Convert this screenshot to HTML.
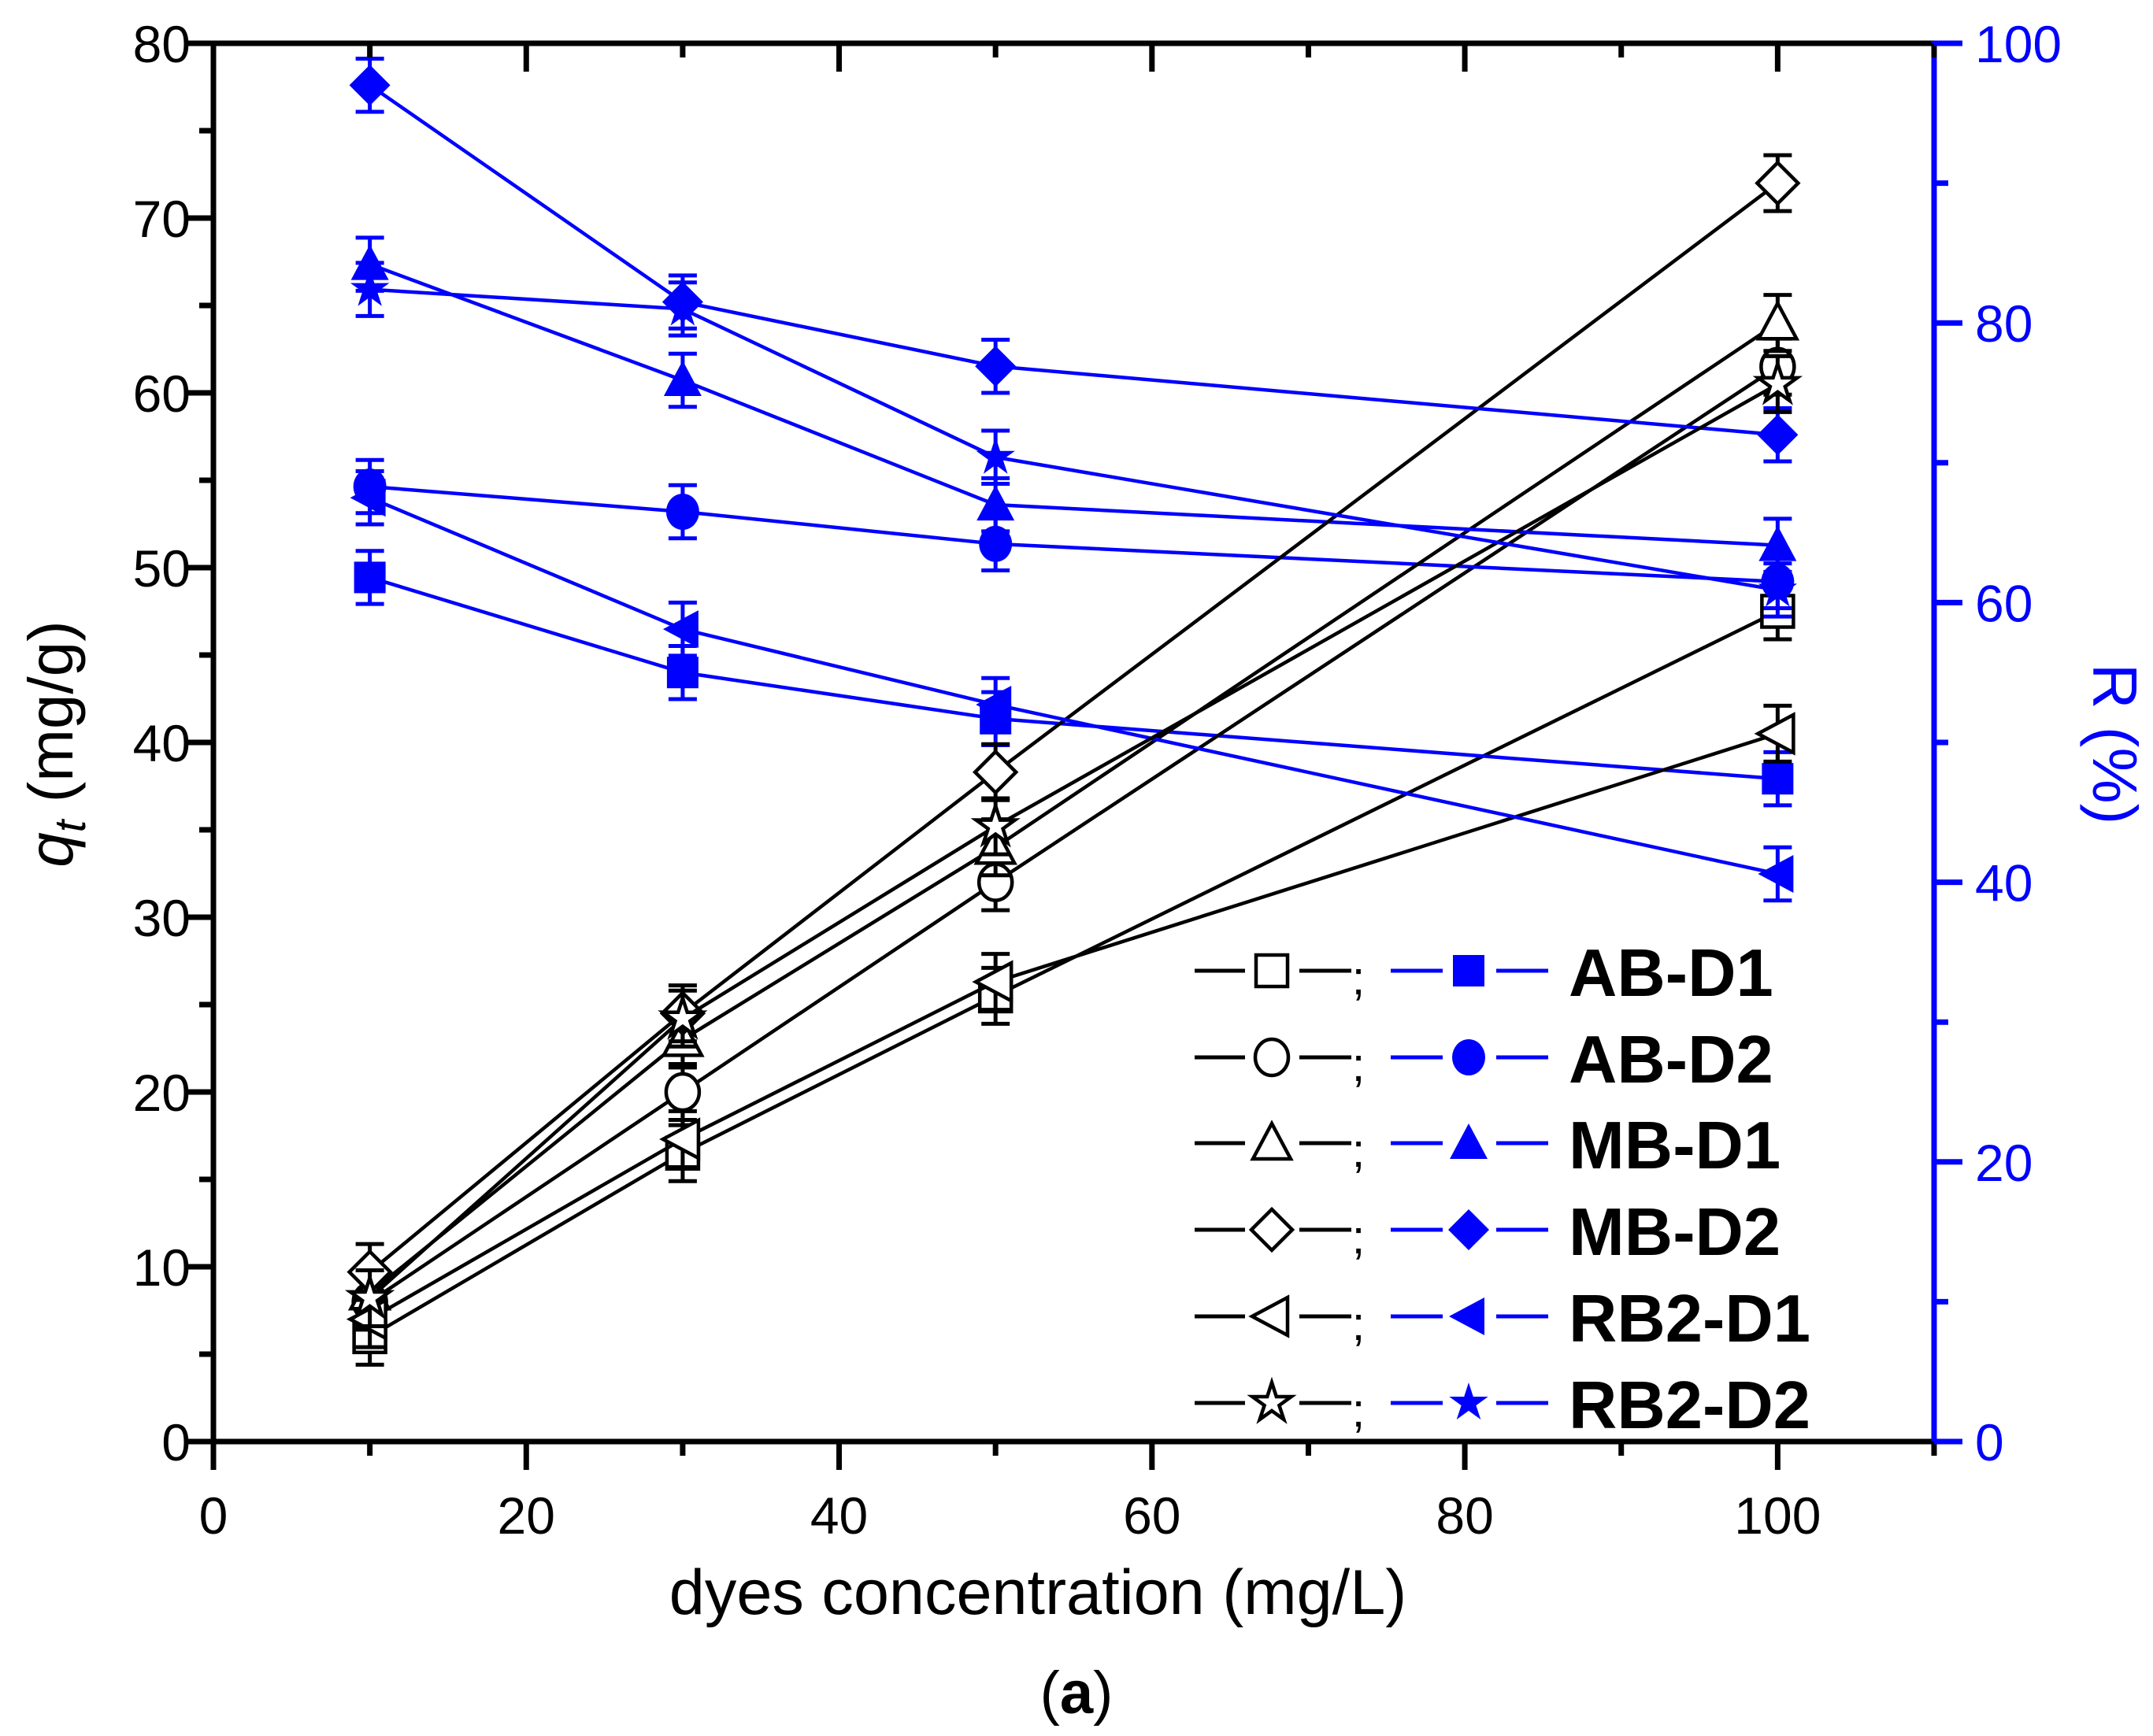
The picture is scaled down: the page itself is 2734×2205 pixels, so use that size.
<!DOCTYPE html>
<html><head><meta charset="utf-8"><style>
body{margin:0;background:#fff}
svg{display:block}
text{font-family:"Liberation Sans",sans-serif}
</style></head><body>
<svg id="chart" width="2734" height="2205" viewBox="0 0 2734 2205" xmlns="http://www.w3.org/2000/svg">
<g id="marks"></g>
<g id="axes"></g>
<g id="legend"></g>
</svg>
<script>
const xCats = [10, 30, 50, 100];
const seriesNames = ["AB-D1","AB-D2","MB-D1","MB-D2","RB2-D1","RB2-D2"];
const markerTypes = ["square","circle","triangle","diamond","ltriangle","star"];
const qAB_D1 = [6, 16.5, 25.5, 47.5];
const qAB_D2 = [8, 20, 32, 61.5];
const qMB_D1 = [8.5, 23, 34, 64];
const qMB_D2 = [9.7, 24.5, 38.3, 72];
const qRB2_D1 = [7, 17.3, 26.3, 40.5];
const qRB2_D2 = [8.2, 24.2, 35.2, 60.5];
const rAB_D1 = [61.8, 55, 51.7, 47.4];
const rAB_D2 = [68.3, 66.5, 64.2, 61.5];
const rMB_D1 = [84.2, 75.9, 67, 64.1];
const rMB_D2 = [97, 81.5, 76.9, 72];
const rRB2_D1 = [67.5, 58.1, 52.7, 40.6];
const rRB2_D2 = [82.4, 81, 70.4, 60.9];
const qErr = 1.6;
const rErr = 1.9;
const xTicks = [0,20,40,60,80,100];
const qTicks = [0,10,20,30,40,50,60,70,80];
const rTicks = [0,20,40,60,80,100];

const qSeries=[qAB_D1,qAB_D2,qMB_D1,qMB_D2,qRB2_D1,qRB2_D2];
const rSeries=[rAB_D1,rAB_D2,rMB_D1,rMB_D2,rRB2_D1,rRB2_D2];
const L=271,R=2456,T=55,B=1831;
const X=v=>L+(v/110)*(R-L);
const YQ=v=>B-(v/80)*(B-T);
const YR=v=>B-(v/100)*(B-T);
const NS="http://www.w3.org/2000/svg";
function mk(tag,attrs,parent){const e=document.createElementNS(NS,tag);for(const k in attrs)e.setAttribute(k,attrs[k]);parent.appendChild(e);return e;}
const marks=document.getElementById('marks'),axes=document.getElementById('axes'),legend=document.getElementById('legend');

function marker(type,cx,cy,color,filled,parent){
  const s=22;const fill=filled?color:'#fff';const sw=filled?0:4.5;
  let e;
  if(type==='square')e=mk('rect',{x:cx-s+2,y:cy-s+2,width:2*s-4,height:2*s-4},parent);
  else if(type==='circle')e=mk('ellipse',{cx:cx,cy:cy,rx:s-1,ry:s+1},parent);
  else if(type==='triangle')e=mk('polygon',{points:`${cx},${cy-s-3} ${cx+s+2},${cy+s-2} ${cx-s-2},${cy+s-2}`},parent);
  else if(type==='diamond')e=mk('polygon',{points:`${cx},${cy-s-4} ${cx+s+4},${cy} ${cx},${cy+s+4} ${cx-s-4},${cy}`},parent);
  else if(type==='ltriangle')e=mk('polygon',{points:`${cx-s-3},${cy} ${cx+s-2},${cy-s-2} ${cx+s-2},${cy+s+2}`},parent);
  else {let p=[];for(let i=0;i<10;i++){const a=-Math.PI/2+i*Math.PI/5;const rr=i%2?s*0.45:s+4;p.push((cx+rr*Math.cos(a)).toFixed(1)+','+(cy+rr*Math.sin(a)).toFixed(1));}e=mk('polygon',{points:p.join(' ')},parent);}
  e.setAttribute('fill',fill);e.setAttribute('stroke',color);e.setAttribute('stroke-width',sw);
  return e;
}

for(let s=0;s<6;s++){
  const groups=[[qSeries[s],YQ,'#000',false,qErr,'q'],[rSeries[s],YR,'#0000ff',true,rErr,'r']];
  for(const [vals,Y,color,filled,err,kind] of groups){
    const g=mk('g',{},marks);
    
    
    const pts=vals.map((v,i)=>X(xCats[i])+','+Y(v)).join(' ');
    const pl=mk('polyline',{points:pts,fill:'none',stroke:color,'stroke-width':4.5},g);
    
    
    vals.forEach((v,i)=>{
      const cx=X(xCats[i]);
      const y1=Y(v+err),y2=Y(v-err);
      const eb=mk('path',{d:`M${cx},${y1}V${y2}M${cx-18},${y1}H${cx+18}M${cx-18},${y2}H${cx+18}`,stroke:color,'stroke-width':5,fill:'none'},g);
      
      
      const m=marker(markerTypes[s],cx,Y(v),color,filled,g);
      
      
    });
  }
}

const sw=7;
let e;
e=mk('line',{x1:L,y1:B,x2:R,y2:B,stroke:'#000','stroke-width':sw},axes);
e=mk('line',{x1:L,y1:T,x2:R,y2:T,stroke:'#000','stroke-width':sw},axes);
e=mk('line',{x1:L,y1:T-3,x2:L,y2:B+3,stroke:'#000','stroke-width':sw},axes);
e=mk('line',{x1:R,y1:T-3,x2:R,y2:B+3,stroke:'#0000ff','stroke-width':sw},axes);
for(let v=0;v<=110;v+=10){
  const x=X(v);const major=v%20===0;const len=major?36:18;
  mk('line',{x1:x,y1:B,x2:x,y2:B+len,stroke:'#000','stroke-width':sw},axes);
  mk('line',{x1:x,y1:T,x2:x,y2:T+len,stroke:'#000','stroke-width':sw},axes);
}
xTicks.forEach(v=>{const t=mk('text',{x:X(v),y:1948,'font-size':66,'text-anchor':'middle'},axes);t.textContent=v;});
for(let v=0;v<=80;v+=5){const y=YQ(v);const len=v%10===0?33:18;mk('line',{x1:L-len,y1:y,x2:L,y2:y,stroke:'#000','stroke-width':sw},axes);}
qTicks.forEach(v=>{const t=mk('text',{x:242,y:YQ(v)+24,'font-size':66,'text-anchor':'end'},axes);t.textContent=v;});
for(let v=0;v<=100;v+=10){const y=YR(v);const len=v%20===0?36:18;mk('line',{x1:R,y1:y,x2:R+len,y2:y,stroke:'#0000ff','stroke-width':sw},axes);}
rTicks.forEach(v=>{const t=mk('text',{x:2508,y:YR(v)+24,'font-size':66,fill:'#0000ff'},axes);t.textContent=v;});

e=mk('text',{x:1318,y:2050,'font-size':81,'text-anchor':'middle'},axes);e.textContent='dyes concentration (mg/L)';
e=mk('text',{x:0,y:0,'font-size':80,'text-anchor':'middle',transform:'translate(92,945) rotate(-90)'},axes);
e.innerHTML='<tspan font-style="italic">q</tspan><tspan font-style="italic" font-size="56" dy="16">t</tspan><tspan dy="-16"> (mg/g)</tspan>';

e=mk('text',{x:0,y:0,'font-size':80,'text-anchor':'middle',fill:'#0000ff',transform:'translate(2658,945) rotate(90)'},axes);e.textContent='R (%)';
e=mk('text',{x:1367,y:2176,'font-size':76,'text-anchor':'middle','font-family':'Liberation Serif, serif'},axes);
e.innerHTML='(<tspan font-weight="bold">a</tspan>)';

const rowY=[1233,1343,1452,1562,1672,1782];
seriesNames.forEach((n,i)=>{
  const g=mk('g',{},legend);
  
  
  const y=rowY[i];
  mk('path',{d:`M1517,${y}H1581M1650,${y}H1716`,stroke:'#000','stroke-width':5,fill:'none'},g);
  marker(markerTypes[i],1615,y,'#000',false,g);
  const sc=mk('text',{x:1725,y:y+30,'font-size':60,'text-anchor':'middle'},g);sc.textContent=';';
  mk('path',{d:`M1766,${y}H1832M1900,${y}H1966`,stroke:'#0000ff','stroke-width':5,fill:'none'},g);
  marker(markerTypes[i],1865,y,'#0000ff',true,g);
  const t=mk('text',{x:1992,y:y+32,'font-size':85,'font-weight':'bold'},g);t.textContent=n;
});
</script>
</body></html>
